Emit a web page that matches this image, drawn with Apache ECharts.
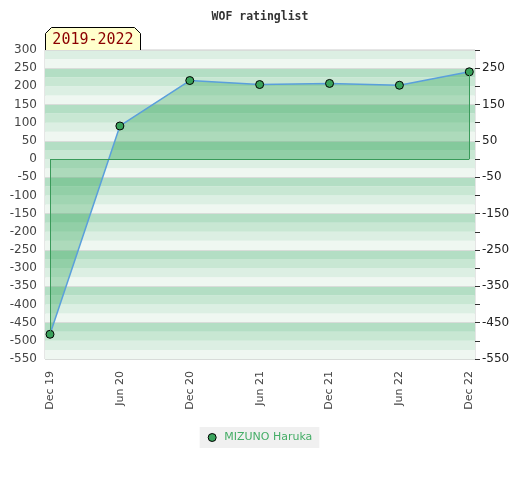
<!DOCTYPE html>
<html>
<head>
<meta charset="utf-8">
<script src="https://cdn.jsdelivr.net/npm/echarts@6/dist/echarts.min.js"></script>
<style>html,body{margin:0;padding:0;background:#fff}#c{width:520px;height:480px}</style>
</head>
<body>
<div id="c"></div>
<script>
var titleText = 'WOF ratinglist';
var periodText = '2019-2022';
var seriesName = 'MIZUNO Haruka';
var categories = ['Dec 19', 'Jun 20', 'Dec 20', 'Jun 21', 'Dec 21', 'Jun 22', 'Dec 22'];
var ratings = [-482, 91, 216, 205, 208, 203, 240];
var yMin = -550, yMax = 300;

var chart = echarts.init(document.getElementById('c'), null, {renderer: 'canvas'});
var lastIdx = ratings.length - 1;
var outlineStyle = {color: '#3a9a5a', width: 1, type: 'solid'};

var option = {
  animation: false,
  title: {
    text: titleText, left: 'center', top: 6,
    textStyle: {fontFamily: 'DejaVu Sans Mono', fontWeight: 'bold', fontSize: 11.5, color: '#333'}
  },
  grid: [
    {left: 45, top: 50, width: 430, height: 309, show: true, borderColor: '#cccccc', borderWidth: 1, backgroundColor: 'transparent'},
    {left: 50, top: 50, width: 419.3, height: 309, show: false}
  ],
  xAxis: [
    {gridIndex: 0, type: 'value', min: 0, max: 1, show: false},
    {gridIndex: 1, type: 'category', data: categories, boundaryGap: false,
      axisLine: {show: false}, axisTick: {show: false},
      axisLabel: {rotate: 90, margin: 12, fontFamily: 'DejaVu Sans', fontSize: 11, color: '#444'}}
  ],
  yAxis: [
    {gridIndex: 0, type: 'value', min: yMin, max: yMax, interval: 50, position: 'left',
      axisLine: {show: false}, axisTick: {show: false}, splitLine: {show: false},
      axisLabel: {margin: 8, fontFamily: 'DejaVu Sans', fontSize: 12, color: '#444'}},
    {gridIndex: 0, type: 'value', min: yMin, max: yMax, interval: 50, position: 'right',
      axisLine: {show: false}, splitLine: {show: false},
      axisTick: {show: true, length: 5, lineStyle: {color: '#333'}},
      axisLabel: {margin: 7, fontFamily: 'DejaVu Sans', fontSize: 12, color: '#222',
        formatter: function (v) { return ((v - yMin) % 100 === 0) ? String(v) : ''; }}},
    {gridIndex: 0, type: 'value', min: yMin, max: yMax, interval: 25, show: true,
      axisLine: {show: false}, axisTick: {show: false}, axisLabel: {show: false},
      splitLine: {show: false},
      splitArea: {show: true, areaStyle: {color: ['#eff7f1', '#dcefe3', '#c8e7d3', '#b3dec4']}}},
    {gridIndex: 0, type: 'value', min: yMin, max: yMax, interval: 100, show: true,
      axisLine: {show: false}, axisTick: {show: false}, axisLabel: {show: false},
      splitLine: {show: true, lineStyle: {color: '#d8dcd9', width: 1}}},
    {gridIndex: 1, type: 'value', min: yMin, max: yMax, show: false}
  ],
  legend: {
    top: 427, left: 'center',
    data: [seriesName],
    icon: 'circle', itemWidth: 8, itemHeight: 8, itemGap: 5,
    padding: [5, 7, 5, 8],
    backgroundColor: '#f0f0f0',
    itemStyle: {color: '#3aa35c', borderColor: '#000', borderWidth: 1},
    textStyle: {fontFamily: 'DejaVu Sans', fontSize: 11, color: '#44ad66', padding: [0, 0, 0, 3]}
  },
  series: [{
    name: seriesName, type: 'line', xAxisIndex: 1, yAxisIndex: 4,
    data: ratings, clip: false,
    symbol: 'circle', symbolSize: 8,
    itemStyle: {color: '#3aa35c', borderColor: '#000', borderWidth: 1},
    lineStyle: {color: '#5a9fdc', width: 1.5},
    areaStyle: {origin: 0, color: 'rgba(30,156,73,0.45)'},
    markLine: {
      silent: true, symbol: 'none', label: {show: false}, lineStyle: outlineStyle,
      data: [
        [{coord: [0, 0]}, {coord: [lastIdx, 0]}],
        [{coord: [0, 0]}, {coord: [0, ratings[0]]}],
        [{coord: [lastIdx, 0]}, {coord: [lastIdx, ratings[lastIdx]]}]
      ]
    },
    z: 3
  }],
  graphic: [{
    type: 'group', left: 45, top: 27,
    children: [{
      type: 'polygon',
      shape: {points: [[0, 23], [0, 6], [6, 0], [89, 0], [95, 6], [95, 23]]},
      style: {fill: '#ffffcc', stroke: '#000', lineWidth: 1}
    }, {
      type: 'text', x: 47.5, y: 13,
      style: {text: periodText, fill: '#8b0000', font: '15px "DejaVu Sans Mono"', align: 'center', verticalAlign: 'middle'}
    }]
  }]
};
chart.setOption(option);
</script>
</body>
</html>
